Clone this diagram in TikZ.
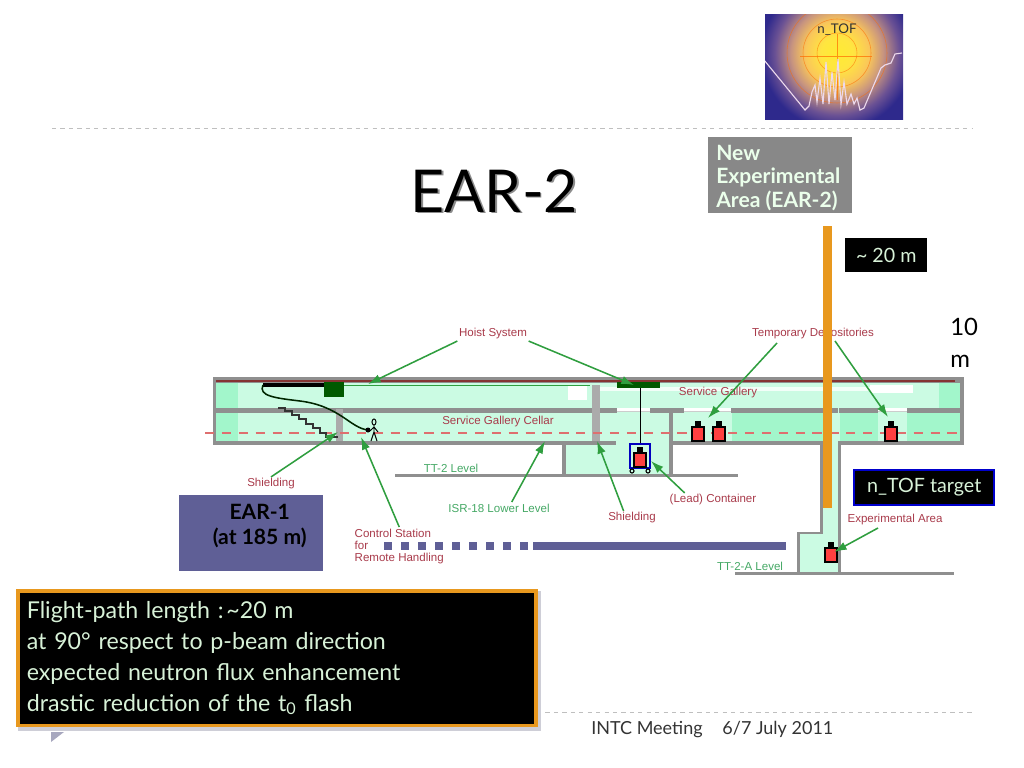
\documentclass[tikz,border=0pt]{standalone}
\usepackage{fontspec}
\setmainfont{Lato}
\newfontfamily\labelfont{Liberation Sans}
\usetikzlibrary{arrows.meta}
\definecolor{wallgray}{HTML}{8F8F8F}
\definecolor{innerwall}{HTML}{ABABAB}
\definecolor{palegreen}{HTML}{CBFBE3}
\definecolor{deepgreen}{HTML}{A2F6CB}
\definecolor{labelred}{HTML}{A83A4A}
\definecolor{labelgreen}{HTML}{45A865}
\definecolor{arrowgreen}{HTML}{2F9E3F}
\definecolor{beamorange}{HTML}{E8981E}
\definecolor{earblue}{HTML}{5F5F96}
\definecolor{boxtext}{HTML}{D8F2D8}
\definecolor{dashred}{HTML}{DE6F6F}
\pgfdeclareradialshading{ntofglow}{\pgfpoint{0bp}{0bp}}{%
  rgb(0bp)=(1,.92,.2);rgb(4bp)=(1,.9,.25);rgb(8bp)=(.98,.78,.35);rgb(11.5bp)=(.78,.58,.5);
  rgb(15.5bp)=(.42,.32,.58);rgb(19bp)=(.18,.16,.55);rgb(50bp)=(.18,.16,.55)}
\tikzset{
  wall/.style={fill=wallgray, draw=none},
  reddrawn/.style={font=\labelfont\fontsize{8.2}{8.6}\selectfont, text=labelred, inner sep=1pt},
  greendrawn/.style={font=\labelfont\fontsize{8.2}{8.6}\selectfont, text=labelgreen, inner sep=1pt},
  callout/.style={draw=arrowgreen, line width=1.1pt, -{Latex[length=9pt,width=6pt]}},
  blackbox/.style={fill=black, text=boxtext, font=\fontsize{14}{16}\selectfont}
}
\begin{document}
\begin{tikzpicture}[x=0.025cm, y=-0.025cm]
\useasboundingbox (0,0) rectangle (1024,768);
% logo
\begin{scope}
\clip (765,15) rectangle (903,120);
\shade[shading=ntofglow] (837,53) circle (100);
\draw[orange!85!red, opacity=0.6, line width=0.4pt] (837,53) circle (20) (837,53) circle (34) (837,53) circle (50);
\draw[orange!85!red, opacity=0.7, line width=0.4pt] (800,56) -- (872,56) (837,34) -- (837,100);
\draw[white!85!violet, line width=0.8pt] plot coordinates {(764,60)(805,110)(809,106)(812,92)(815,85)(817,102)(820,78)(823,104)(826,62)(829,104)(832,72)(835,100)(838,59)(841,104)(844,82)(847,104)(851,94)(854,104)(857,98)(860,110)(864,108)(881,68)(885,65)(891,63)(895,54)(902,53)};
\end{scope}
\node[text=black!80, font=\fontsize{9.5}{10}\selectfont] (logotext) at (837,30) {n\_TOF};
% rules
\draw[black!25, dashed, line width=0.6pt] (52,128) -- (972,128);
\draw[black!25, dashed, line width=0.6pt] (537,712) -- (972,712);
\fill[blue!15!gray!60] (51,742) -- (51,732) -- (64,732) -- cycle;
% title
\node[text=black!45, font=\fontsize{42}{48}\selectfont] (titleshadow) at (496,192.5) {EAR-2};
\node[text=black, font=\fontsize{42}{48}\selectfont] (title) at (494.5,191) {EAR-2};
% hall fill
\fill[palegreen] (216,383) rectangle (960,441);
\fill[palegreen] (566,441) rectangle (669,474);
\fill[palegreen] (823,441) rectangle (838,534);
\fill[palegreen] (800,534) rectangle (838,572);
\fill[deepgreen] (216,383) rectangle (238,441);
\fill[deepgreen] (939,383) rectangle (960,408);
\fill[deepgreen] (732,413) rectangle (825,441);
\fill[deepgreen] (840,413) rectangle (878,441);
\fill[deepgreen] (907,413) rectangle (960,441);
\fill[white] (568,385) rectangle (587,400);
\fill[white] (870,385) rectangle (913,393);
\fill[white!75!palegreen] (600,387) rectangle (870,391);
\foreach \a/\b in {617/650, 684/731, 878/907} {
  \fill[white] (\a,408) rectangle (\b,411);
  \fill[black!20] (\a,411) rectangle (\b,412);
}
% walls
\fill[wall] (213,377) rectangle (964,383);
\fill[wall] (213,377) rectangle (216,445);
\fill[wall] (960,377) rectangle (964,445);
\fill[wall] (213,408) rectangle (617,413);
\fill[wall] (650,408) rectangle (684,413);
\fill[wall] (731,408) rectangle (838,413);
\fill[wall] (839,408) rectangle (878,413);
\fill[wall] (907,408) rectangle (960,413);
\fill[wall] (213,441) rectangle (616,445);
\fill[wall] (673,441) rectangle (823,445);
\fill[wall] (838,441) rectangle (964,445);
\fill[innerwall] (592,385) rectangle (600,441);
\fill[innerwall] (336,409) rectangle (343,441);
\fill[wall] (562,445) rectangle (566,474);
\fill[wall] (669,412) rectangle (673,475);
\fill[wall] (395,474) rectangle (738,477);
\fill[wall] (820,443) rectangle (823,534);
\fill[wall] (797,532) rectangle (823,534);
\fill[wall] (797,532) rectangle (800,572);
\fill[wall] (838,443) rectangle (841,572);
\fill[wall] (735,572) rectangle (954,575);
% lines through the hall
\draw[dashred, dash pattern=on 6.5pt off 5.5pt, line width=0.8pt] (205,433) -- (960,433);
\draw[red!40!black!80, line width=1pt] (216,381) -- (955,381);
\draw[arrowgreen, line width=0.6pt] (344,385) -- (590,385);
% hoist blocks
\fill[green!35!black] (324,382) rectangle (344,397);
\fill[green!35!black] (617,382) rectangle (660,388);
\draw[black, line width=0.6pt] (640,388) -- (640,445);
% cable, stairs and operator
\draw[black, line width=2.2pt] (263,385) -- (324,385);
\draw[black!85!green, line width=1.1pt] (263,385) .. controls (258,396) and (275,398) .. (300,401) .. controls (340,406) and (350,428) .. (368,430);
\fill[black] (368,430) circle (2.5);
\draw[black!80, line width=0.8pt] (278,408) -- (285,408) -- (285,411) -- (292,411) -- (292,415) -- (299,415) -- (299,419) -- (306,419) -- (306,424) -- (313,424) -- (313,428) -- (320,428) -- (320,433) -- (326,433) -- (326,437) -- (338,437);
\draw[black, line width=0.7pt] (374,422) ellipse (2 and 3) (374,425) -- (374,432) (374,432) -- (371,441) (374,432) -- (377,441) (374,427) -- (370,431) (374,427) -- (378,432);
% container
\draw[blue!75!black, line width=1.3pt] (630,444) rectangle (650,468);
\draw[black, line width=0.8pt] (632,471) circle (2) (648,471) circle (2);
\foreach \x/\y in {698/441, 719/441, 891/441, 640/467, 831/562} {
  \fill[black] (\x-3,\y-20) rectangle (\x+3,\y-14);
  \draw[black, fill=red!75!white, line width=1pt] (\x-6,\y-14) rectangle (\x+6,\y);
}
% purple dashed line
\foreach \x in {384,401,418,435,452,469,486,503,520} {
  \fill[earblue] (\x,542) rectangle (\x+8,550);
}
\fill[earblue] (533,542) rectangle (786,550);
% drawing labels
\node[reddrawn] (hoist) at (493,334) {Hoist System};
\node[reddrawn] (deposit) at (813,334) {Temporary Depositories};
\node[reddrawn] (gallery) at (718,393) {Service Gallery};
\node[reddrawn] (cellar) at (498,422) {Service Gallery Cellar};
\node[reddrawn] (shieldleft) at (271,484) {Shielding};
\node[reddrawn] (shieldright) at (632,518) {Shielding};
\node[reddrawn] (lead) at (713,500) {(Lead) Container};
\node[reddrawn] (exparea) at (895,520) {Experimental Area};
\node[reddrawn, anchor=north west, align=left] (control) at (353,527) {Control Station\\for\\Remote Handling};
\node[greendrawn] (ttlevel) at (451,468) {TT-2 Level};
\node[greendrawn] (isr) at (499,508) {ISR-18 Lower Level};
\node[greendrawn] (talevel) at (750,566) {TT-2-A Level};
% orange flight path
\fill[beamorange] (823,226) rectangle (832,508);
% arrow ends
\coordinate (hoistA) at (368,384);
\coordinate (hoistB) at (634,385);
\coordinate (depositA) at (708,418);
\coordinate (depositB) at (888,417);
\coordinate (depositC) at (777,343);
\coordinate (depositD) at (835,341);
\coordinate (shieldA) at (338,432);
\coordinate (controlA) at (361,437);
\coordinate (isrA) at (545,441);
\coordinate (shieldB) at (597,441);
\coordinate (leadA) at (651,461);
\coordinate (expA) at (834,552);
\coordinate (expB) at (878,528);
\draw[callout] (hoist.south west) -- (hoistA);
\draw[callout] (hoist.south east) -- (hoistB);
\draw[callout] (depositC) -- (depositA);
\draw[callout] (depositD) -- (depositB);
\draw[callout] (shieldleft.north) -- (shieldA);
\draw[callout] (control.north) -- (controlA);
\draw[callout] (isr.25) -- (isrA);
\draw[callout] (shieldright.140) -- (shieldB);
\draw[callout] (lead.166) -- (leadA);
\draw[callout] (expB) -- (expA);
% boxes
\fill[wallgray!95!black] (708,137) rectangle (852,213);
\node[text=white!92!green, anchor=west, align=left, inner sep=0pt, font=\fontsize{15}{16.7}\selectfont\bfseries] (newarea) at (716,178) {New\\Experimental\\Area (EAR-2)};
\node[blackbox, anchor=north west, minimum width=2.05cm, minimum height=0.85cm, inner sep=0pt] (twenty) at (845,238) {\textasciitilde{} 20 m};
\node[blackbox, draw=blue!80!black, line width=1.6pt, anchor=north west, minimum width=3.5cm, minimum height=0.87cm, inner sep=0pt] (target) at (853,469) {n\_TOF target};
\node[anchor=north west, align=left, inner sep=0pt, font=\fontsize{17}{22.5}\selectfont] (tenm) at (950,318) {10\\m};
\node[fill=earblue, anchor=north west, minimum width=3.6cm, minimum height=1.9cm, inner sep=0pt, align=center, font=\fontsize{15}{18}\selectfont\bfseries] (earone) at (179,495) {\hspace*{12pt}EAR-1\\\hspace*{12pt}(at 185 m)\\[-5pt]\mbox{}};
% summary box
\fill[blue!10!gray!35] (18,591) rectangle (541,731);
\node[fill=black, draw=beamorange, line width=2.6pt, text=boxtext, anchor=north west, minimum width=12.95cm, minimum height=3.37cm, text width=12.5cm, align=left, inner sep=0pt, font=\fontsize{16.5}{22}\selectfont] (summary) at (16,589) {Flight-path length :\hspace{0.12em}\textasciitilde 20 m\\at 90° respect to p-beam direction\\expected neutron flux enhancement\\drastic reduction of the t\textsubscript{0} flash};
% footer
\node[anchor=west, inner sep=0pt, text=black!80, font=\fontsize{12.8}{15}\selectfont] (footer) at (591,730) {INTC Meeting\hspace{1.1em}6/7 July 2011};
\end{tikzpicture}
\end{document}
